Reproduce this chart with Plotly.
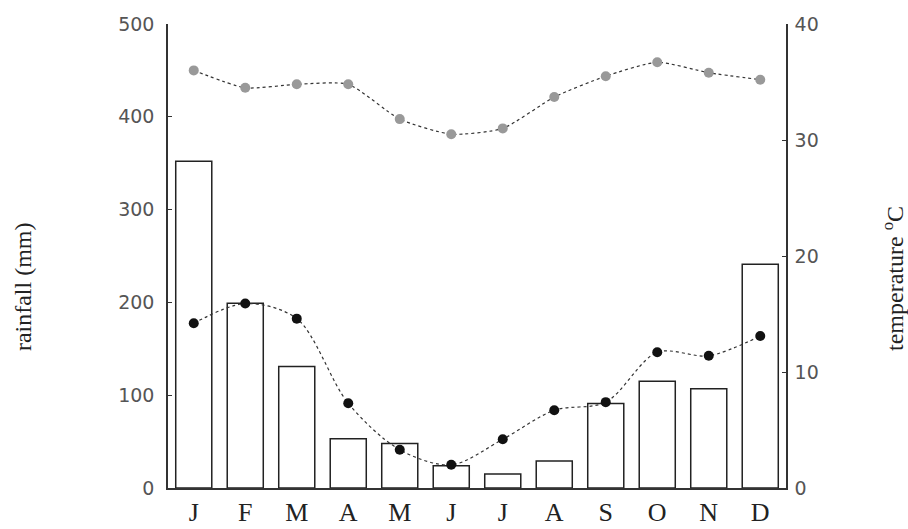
import plotly.graph_objects as go

months = ["J", "F", "M", "A", "M", "J", "J", "A", "S", "O", "N", "D"]
rainfall = [352, 199, 131, 53, 48, 24, 15, 29, 91, 115, 107, 241]
temp_max = [36.0, 34.5, 34.8, 34.8, 31.8, 30.5, 31.0, 33.7, 35.5, 36.7, 35.8, 35.2]
temp_min = [14.2, 15.9, 14.6, 7.3, 3.3, 2.0, 4.2, 6.7, 7.4, 11.7, 11.4, 13.1]
rain_ticks = [0, 100, 200, 300, 400, 500]
temp_ticks = [0, 10, 20, 30, 40]

x = list(range(len(months)))

fig = go.Figure()
fig.add_trace(go.Bar(
    x=x, y=rainfall, width=0.7,
    marker=dict(color="white", line=dict(color="#222222", width=1.5)),
    yaxis="y", showlegend=False,
))
fig.add_trace(go.Scatter(
    x=x, y=temp_max, mode="lines+markers", yaxis="y2",
    line=dict(color="#333333", width=1.2, dash="3px,3px", shape="spline", smoothing=0.6),
    marker=dict(color="#999999", size=10), showlegend=False,
))
fig.add_trace(go.Scatter(
    x=x, y=temp_min, mode="lines+markers", yaxis="y2",
    line=dict(color="#333333", width=1.2, dash="3px,3px", shape="spline", smoothing=0.9),
    marker=dict(color="#111111", size=10), showlegend=False,
))

num_font = dict(family="DejaVu Sans", size=19, color="#555555")
serif = "Liberation Serif"

fig.update_layout(
    width=908, height=529,
    margin=dict(l=168, r=122, t=24, b=41, autoexpand=False),
    paper_bgcolor="white", plot_bgcolor="white",
    bargap=0.3,
    xaxis=dict(
        range=[-0.5, 11.5], tickvals=x, ticktext=months,
        showline=True, linecolor="#333333", linewidth=1.5,
        ticks="", showgrid=False, zeroline=False, automargin=False,
        tickfont=dict(family=serif, size=26, color="#222222"),
        ticklabelstandoff=0,
    ),
    yaxis=dict(
        range=[0, 500], tickvals=rain_ticks,
        showline=True, linecolor="#333333", linewidth=1.5,
        ticks="inside", ticklen=4, tickcolor="#333333", automargin=False,
        showgrid=False, zeroline=False, tickfont=num_font,
        ticklabelstandoff=8,
    ),
    yaxis2=dict(
        range=[0, 40], tickvals=temp_ticks, overlaying="y", side="right",
        showline=True, linecolor="#333333", linewidth=1.5,
        ticks="inside", ticklen=4, tickcolor="#333333", automargin=False,
        showgrid=False, zeroline=False, tickfont=num_font,
        ticklabelstandoff=3,
    ),
    annotations=[
        dict(text="rainfall (mm)", x=-0.2346, y=0.433, xref="paper", yref="paper",
             textangle=-90, showarrow=False, xanchor="center", yanchor="middle",
             font=dict(family=serif, size=24, color="#222222")),
        dict(text="temperature <sup>o</sup>C", x=1.1731, y=0.4526, xref="paper", yref="paper",
             textangle=-90, showarrow=False, xanchor="center", yanchor="middle",
             font=dict(family=serif, size=24, color="#222222")),
    ],
)

fig.write_html("out.html", config={"displayModeBar": False},
               post_script="document.body.style.margin='0px';document.body.style.overflow='hidden';")
